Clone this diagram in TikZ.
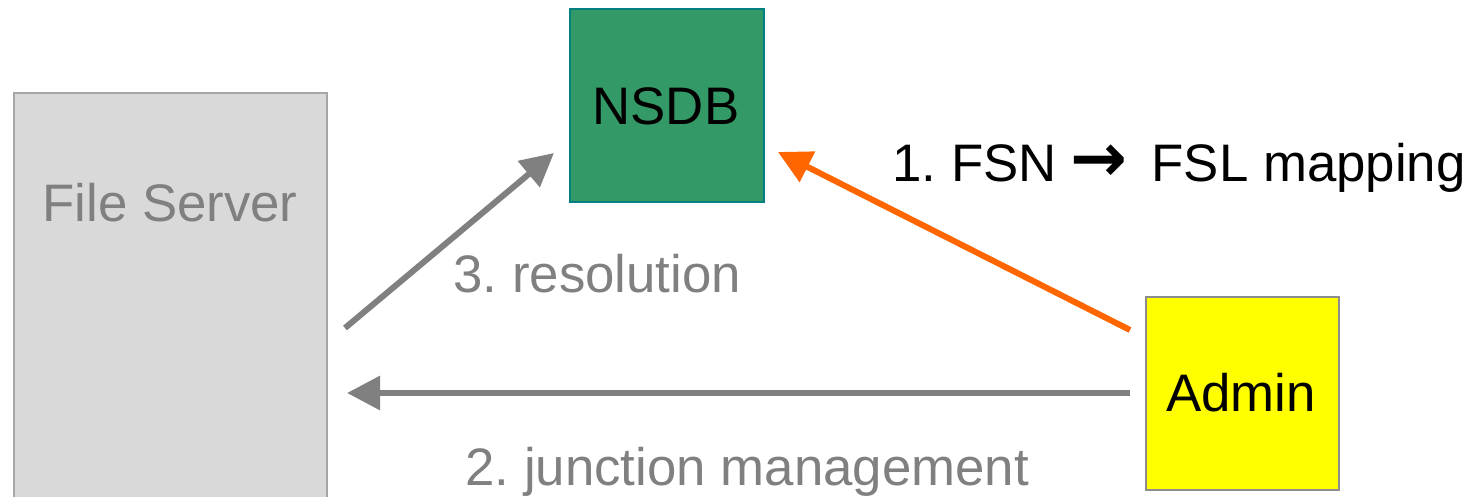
\documentclass[tikz,border=0pt]{standalone}
\usepackage{fontspec}
\setmainfont{Liberation Sans}
\newfontfamily\symfont{DejaVu Sans}
\usetikzlibrary{arrows.meta}
\frenchspacing
\definecolor{fsfill}{HTML}{D9D9D9}
\definecolor{fsdraw}{HTML}{A6A6A6}
\definecolor{nsfill}{HTML}{339966}
\definecolor{nsdraw}{HTML}{008080}
\definecolor{adfill}{HTML}{FFFF00}
\definecolor{addraw}{HTML}{8C8C8C}
\definecolor{graytxt}{HTML}{808080}
\definecolor{orangearr}{HTML}{FF6600}
\tikzset{
  box/.style={draw, line width=1pt, rectangle, inner sep=0pt, anchor=north west},
  lbl/.style={font=\fontsize{26.4}{30}\selectfont, inner sep=0pt, anchor=base west},
  conn/.style={line width=3pt, -{Triangle[length=16.5pt,width=16.5pt]}},
}
\begin{document}
\begin{tikzpicture}[x=0.5pt,y=-0.5pt]
\useasboundingbox (0,0) rectangle (1468,497);
\begin{scope}
\clip (0,0) rectangle (1468,497);
\node[box, fill=fsfill, draw=fsdraw, minimum width=156.5pt, minimum height=215pt] (fs) at (13,92) {};
\end{scope}
\node[lbl, text=graytxt, anchor=base] (fst) at (170,222) {File Server};
\node[box, fill=nsfill, draw=nsdraw, minimum width=97pt, minimum height=96.5pt] (ns) at (569,8) {};
\node[lbl, anchor=base] (nst) at (666,125) {NSDB};
\node[box, fill=adfill, draw=addraw, minimum width=96.5pt, minimum height=96.5pt] (ad) at (1145,296) {};
\node[lbl, anchor=base] (adt) at (1241,412) {Admin};

\coordinate (a1s) at (1130,330);
\coordinate (a1e) at (778,152);
\coordinate (a2s) at (1130,393);
\coordinate (a2e) at (347,393);
\coordinate (a3s) at (345,328);
\coordinate (a3e) at (554,153);
\draw[conn, orangearr] (a1s) -- (a1e);
\draw[conn, graytxt] (a2s) -- (a2e);
\draw[conn, graytxt] (a3s) -- (a3e);

\node[lbl] (l1) at (892,182) {1. FSN\hspace{7pt}{\symfont\bfseries\fontsize{34}{34}\selectfont →}\hspace{12pt}FSL mapping};
\node[lbl, text=graytxt] (l3) at (453,293) {3. resolution};
\node[lbl, text=graytxt] (l2) at (465,485) {2. junction management};
\end{tikzpicture}
\end{document}
